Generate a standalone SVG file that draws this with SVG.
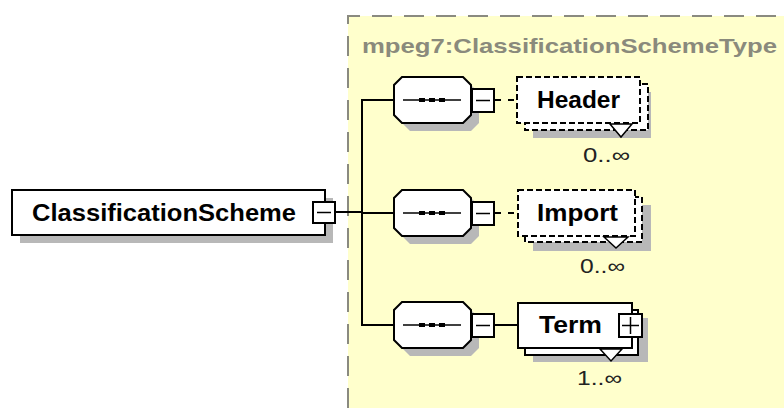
<svg xmlns="http://www.w3.org/2000/svg" width="784" height="408" viewBox="0 0 784 408">
<style>
.bg{fill:#ffffff}
.yel{fill:#ffffcc}
.frame{fill:none;stroke:#8a8a80;stroke-width:2;stroke-dasharray:20 12}
.title{font-family:"Liberation Sans",Arial,sans-serif;font-weight:bold;font-size:21px;fill:#8a8a7c}
.lbl{font-family:"Liberation Sans",Arial,sans-serif;font-weight:bold;font-size:23px;fill:#000}
.mult{font-family:"Liberation Sans",Arial,sans-serif;font-size:20px;fill:#222}
.shadow{fill:#b8b8b8;stroke:none}
.box{fill:#ffffff;stroke:#000;stroke-width:2}
.dbox{fill:#ffffff;stroke:#000;stroke-width:2;stroke-dasharray:6 3}
.ln{fill:none;stroke:#000;stroke-width:2}
.dln{fill:none;stroke:#000;stroke-width:2;stroke-dasharray:6 7}
.thin{fill:none;stroke:#000;stroke-width:1.5}
.v{fill:#ffffff;stroke:#000;stroke-width:1.5}
</style>
<defs>
<g id="seq">
<polygon class="shadow" points="410,-15 471,-15 479,-7 479,23 471,31 410,31 402,23 402,-7"/>
<polygon class="box" points="402,-23 463,-23 471,-15 471,15 463,23 402,23 394,15 394,-15"/>
<line class="thin" x1="403" y1="0" x2="461" y2="0"/>
<rect x="419" y="-2" width="6" height="4" fill="#000"/>
<rect x="429" y="-2" width="6" height="4" fill="#000"/>
<rect x="439" y="-2" width="6" height="4" fill="#000"/>
<rect class="box" x="472" y="-11" width="22" height="23"/>
<line class="thin" x1="476" y1="0.5" x2="490" y2="0.5"/>
</g>
</defs>
<rect class="bg" x="0" y="0" width="784" height="408"/>
<rect class="yel" x="348" y="16" width="436" height="392"/>
<path class="frame" d="M348,408 V16 H784"/>
<text class="title" x="362" y="53" textLength="415" lengthAdjust="spacingAndGlyphs">mpeg7:ClassificationSchemeType</text>

<g id="connectors">
<line class="ln" x1="335" y1="212" x2="362" y2="212"/>
<line class="ln" x1="362" y1="99" x2="362" y2="326"/>
<line class="ln" x1="362" y1="100" x2="394" y2="100"/>
<line class="ln" x1="362" y1="213" x2="394" y2="213"/>
<line class="ln" x1="362" y1="325" x2="394" y2="325"/>
<line class="dln" x1="495" y1="100" x2="517" y2="100"/>
<line class="dln" x1="495" y1="213" x2="518" y2="213"/>
<line class="ln" x1="494" y1="325" x2="518" y2="325"/>
</g>

<g id="classificationScheme">
<rect class="shadow" x="20" y="198" width="313" height="45"/>
<rect class="box" x="12" y="190" width="313" height="45"/>
<rect class="box" x="313" y="202" width="22" height="21"/>
<line class="thin" x1="317" y1="212.5" x2="331" y2="212.5"/>
<text class="lbl" x="32" y="221" font-size="24" textLength="264" lengthAdjust="spacingAndGlyphs">ClassificationScheme</text>
</g>

<g id="seq1"><use href="#seq" transform="translate(0,100)"/></g>
<g id="seq2"><use href="#seq" transform="translate(0,213)"/></g>
<g id="seq3"><use href="#seq" transform="translate(0,325)"/></g>

<g id="header">
<rect class="shadow" x="533" y="92" width="118" height="46"/>
<rect class="dbox" x="525" y="84" width="123" height="46"/>
<rect class="dbox" x="517" y="77" width="123" height="46"/>
<polygon class="v" points="610,124 621,137 632,124"/>
<text class="lbl" x="537" y="108" textLength="83" lengthAdjust="spacingAndGlyphs">Header</text>
<text class="mult" x="583" y="162" textLength="47" lengthAdjust="spacingAndGlyphs">0..∞</text>
</g>

<g id="import">
<rect class="shadow" x="533" y="205" width="118" height="46"/>
<rect class="dbox" x="525" y="197" width="117" height="45"/>
<rect class="dbox" x="518" y="190" width="117" height="46"/>
<polygon class="v" points="604,237 616,248 628,237"/>
<text class="lbl" x="537" y="221" textLength="81" lengthAdjust="spacingAndGlyphs">Import</text>
<text class="mult" x="580" y="273" textLength="45" lengthAdjust="spacingAndGlyphs">0..∞</text>
</g>

<g id="term">
<rect class="shadow" x="533" y="318" width="115" height="44"/>
<rect class="box" x="525" y="310" width="113" height="45"/>
<rect class="box" x="518" y="303" width="114" height="45"/>
<polygon class="v" points="600,349 611,361 622,349"/>
<rect class="box" x="619" y="314" width="23" height="23"/>
<line class="thin" x1="622" y1="325.5" x2="639" y2="325.5"/>
<line class="thin" x1="630.5" y1="317" x2="630.5" y2="334"/>
<text class="lbl" x="539" y="333" textLength="63" lengthAdjust="spacingAndGlyphs">Term</text>
<text class="mult" x="577" y="385" textLength="45" lengthAdjust="spacingAndGlyphs">1..∞</text>
</g>
</svg>
